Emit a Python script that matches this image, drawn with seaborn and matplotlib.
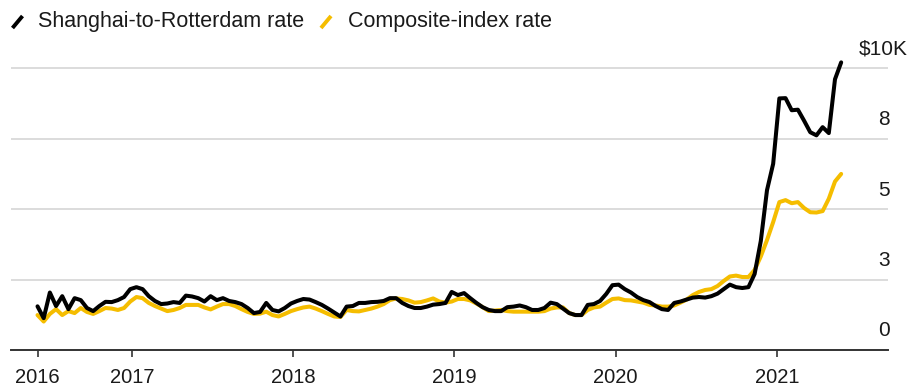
import numpy as np
import pandas as pd
import matplotlib
matplotlib.use("Agg")
import matplotlib.pyplot as plt
from matplotlib.lines import Line2D
import seaborn as sns

# Biweekly freight rates, thousands of US dollars per 40-ft container
dates = pd.date_range("2016-06-01", periods=131, freq="14D")

shanghai_rotterdam = [
    1.55, 1.13, 2.04, 1.56, 1.91, 1.45, 1.84, 1.77, 1.49, 1.38,
    1.56, 1.71, 1.70, 1.77, 1.88, 2.16, 2.23, 2.16, 1.91, 1.74,
    1.63, 1.65, 1.70, 1.67, 1.93, 1.90, 1.84, 1.72, 1.91, 1.77,
    1.84, 1.74, 1.70, 1.63, 1.49, 1.31, 1.35, 1.67, 1.42, 1.37,
    1.49, 1.65, 1.74, 1.81, 1.79, 1.70, 1.60, 1.47, 1.33, 1.19,
    1.54, 1.56, 1.67, 1.67, 1.70, 1.71, 1.74, 1.84, 1.84, 1.67,
    1.56, 1.49, 1.49, 1.54, 1.61, 1.63, 1.67, 2.06, 1.95, 2.02,
    1.84, 1.67, 1.52, 1.42, 1.38, 1.38, 1.52, 1.54, 1.58, 1.52,
    1.42, 1.42, 1.49, 1.68, 1.63, 1.47, 1.31, 1.24, 1.24, 1.60,
    1.63, 1.74, 1.99, 2.30, 2.32, 2.16, 2.04, 1.88, 1.77, 1.70,
    1.56, 1.45, 1.42, 1.67, 1.72, 1.79, 1.86, 1.88, 1.86, 1.91,
    2.00, 2.16, 2.32, 2.23, 2.20, 2.23, 2.70, 3.87, 5.67, 6.61,
    8.93, 8.94, 8.51, 8.53, 8.14, 7.73, 7.62, 7.91, 7.70, 9.61,
    10.21,
]

composite_index = [
    1.24, 1.01, 1.28, 1.45, 1.24, 1.38, 1.31, 1.49, 1.35, 1.28,
    1.38, 1.49, 1.47, 1.42, 1.49, 1.72, 1.88, 1.84, 1.67, 1.56,
    1.47, 1.38, 1.42, 1.49, 1.60, 1.60, 1.60, 1.51, 1.44, 1.54,
    1.63, 1.63, 1.56, 1.45, 1.35, 1.28, 1.29, 1.36, 1.24, 1.19,
    1.28, 1.38, 1.45, 1.51, 1.54, 1.47, 1.38, 1.28, 1.19, 1.17,
    1.42, 1.38, 1.37, 1.42, 1.47, 1.54, 1.63, 1.77, 1.83, 1.81,
    1.76, 1.68, 1.70, 1.76, 1.83, 1.72, 1.68, 1.72, 1.81, 1.81,
    1.76, 1.65, 1.52, 1.38, 1.40, 1.42, 1.38, 1.36, 1.36, 1.36,
    1.36, 1.36, 1.38, 1.47, 1.51, 1.51, 1.31, 1.24, 1.24, 1.42,
    1.51, 1.54, 1.68, 1.81, 1.83, 1.77, 1.76, 1.72, 1.68, 1.60,
    1.58, 1.54, 1.54, 1.58, 1.68, 1.79, 1.95, 2.06, 2.13, 2.16,
    2.27, 2.45, 2.61, 2.64, 2.59, 2.59, 2.84, 3.32, 3.90, 4.54,
    5.25, 5.32, 5.21, 5.25, 5.04, 4.89, 4.88, 4.93, 5.37, 5.98,
    6.25,
]

series_names = ["Shanghai-to-Rotterdam rate", "Composite-index rate"]
series_colors = ["#000000", "#f5bd00"]

year_ticks = ["2016-06-01", "2017-01-01", "2018-01-01", "2019-01-01",
              "2020-01-01", "2021-01-01"]
year_labels = ["2016", "2017", "2018", "2019", "2020", "2021"]

grid_values = [0, 2.5, 5, 7.5, 10]
grid_labels = ["0", "3", "5", "8", "$10K"]

df = pd.concat([
    pd.DataFrame({"date": dates, "rate": composite_index, "series": series_names[1]}),
    pd.DataFrame({"date": dates, "rate": shanghai_rotterdam, "series": series_names[0]}),
])

sns.set_theme(style="white")
plt.rcParams["font.family"] = ["Liberation Sans", "DejaVu Sans"]

text_color = "#1a1a1a"
fig = plt.figure(figsize=(9.1, 3.91), dpi=100)
ax = fig.add_axes([0.0121, 0.1049, 0.9637, 0.7637])

sns.lineplot(
    data=df, x="date", y="rate", hue="series",
    hue_order=[series_names[1], series_names[0]],
    palette={series_names[0]: series_colors[0], series_names[1]: series_colors[1]},
    linewidth=2.9, legend=False, ax=ax,
)

ax.set_xlim(pd.Timestamp("2016-04-02"), pd.Timestamp("2021-09-09"))
ax.set_ylim(0, 10.6)
ax.set_xlabel("")
ax.set_ylabel("")

# horizontal reference lines
ax.set_yticks(grid_values)
ax.yaxis.grid(True, color="#d9d9d9", linewidth=1.3)
ax.set_axisbelow(True)
ax.tick_params(axis="y", left=False, right=False, labelleft=False)
for v, lab in zip(grid_values, grid_labels):
    dx = 20 if lab.startswith("$") else 2
    ax.annotate(lab, xy=(1, v), xycoords=("axes fraction", "data"),
                xytext=(dx, 19), textcoords="offset pixels",
                ha="right", va="center", fontsize=15, color=text_color,
                annotation_clip=False)

ax.set_xticks(pd.to_datetime(year_ticks))
ax.set_xticklabels(year_labels)
ax.tick_params(axis="x", bottom=True, length=5, width=1.2, color="#333333",
               labelsize=14.5, labelcolor=text_color, pad=8)

for side in ["top", "right", "left"]:
    ax.spines[side].set_visible(False)
ax.spines["bottom"].set_color("#333333")
ax.spines["bottom"].set_linewidth(1.4)

# legend row across the top
W, H = 910, 391
legend_items = [(12.5, 38, series_names[0], series_colors[0]),
                (321, 348, series_names[1], series_colors[1])]
for x0, xt, name, col in legend_items:
    fig.add_artist(Line2D([x0 / W, (x0 + 10) / W], [1 - 28 / H, 1 - 16 / H],
                          transform=fig.transFigure, color=col, linewidth=2.8,
                          solid_capstyle="butt"))
    fig.text(xt / W, 1 - 21.5 / H, name, ha="left", va="center",
             fontsize=15.5, color=text_color)

fig.savefig("out.png", dpi=100)
